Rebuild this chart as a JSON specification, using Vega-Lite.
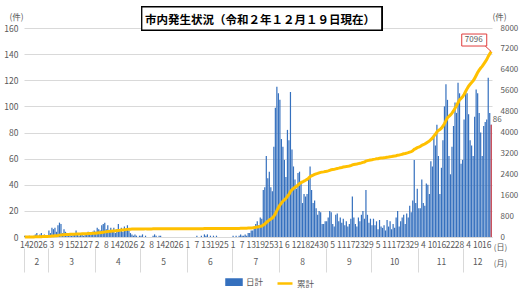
{
"$schema":"https://vega.github.io/schema/vega-lite/v6.json",
"width":468,"height":209,
"autosize":{"type":"none"},
"padding":{"left":24,"top":28,"right":28,"bottom":56},
"background":"white",
"config":{"font":"Noto Sans CJK JP","view":{"stroke":null},"axis":{"labelColor":"#595959","labelFontSize":8.5,"titleColor":"#595959","titleFontSize":8.5,"titleFontWeight":"normal"}},
"title":{"text":"市内発生状況（令和２年１２月１９日現在）","fontSize":11.5,"fontWeight":"bold","color":"#000000","anchor":"middle","frame":"group","baseline":"middle","offset":0,"dy":28,"dx":2},
"data":{"values":[
{"date":"2020-02-14","n":1},{"date":"2020-02-15","n":0},{"date":"2020-02-16","n":0},{"date":"2020-02-17","n":1},{"date":"2020-02-18","n":0},{"date":"2020-02-19","n":0},{"date":"2020-02-20","n":1},{"date":"2020-02-21","n":2},{"date":"2020-02-22","n":3},{"date":"2020-02-23","n":1},{"date":"2020-02-24","n":2},{"date":"2020-02-25","n":3},{"date":"2020-02-26","n":1},{"date":"2020-02-27","n":2},{"date":"2020-02-28","n":1},{"date":"2020-02-29","n":1},
{"date":"2020-03-01","n":5},{"date":"2020-03-02","n":3},{"date":"2020-03-03","n":7},{"date":"2020-03-04","n":6},{"date":"2020-03-05","n":7},{"date":"2020-03-06","n":4},{"date":"2020-03-07","n":9},{"date":"2020-03-08","n":11},{"date":"2020-03-09","n":10},{"date":"2020-03-10","n":3},{"date":"2020-03-11","n":6},{"date":"2020-03-12","n":4},{"date":"2020-03-13","n":2},{"date":"2020-03-14","n":3},{"date":"2020-03-15","n":2},{"date":"2020-03-16","n":1},{"date":"2020-03-17","n":3},{"date":"2020-03-18","n":2},{"date":"2020-03-19","n":5},{"date":"2020-03-20","n":2},{"date":"2020-03-21","n":1},{"date":"2020-03-22","n":3},{"date":"2020-03-23","n":2},{"date":"2020-03-24","n":1},{"date":"2020-03-25","n":3},{"date":"2020-03-26","n":2},{"date":"2020-03-27","n":4},{"date":"2020-03-28","n":3},{"date":"2020-03-29","n":2},{"date":"2020-03-30","n":4},{"date":"2020-03-31","n":5},
{"date":"2020-04-01","n":4},{"date":"2020-04-02","n":7},{"date":"2020-04-03","n":6},{"date":"2020-04-04","n":5},{"date":"2020-04-05","n":9},{"date":"2020-04-06","n":10},{"date":"2020-04-07","n":11},{"date":"2020-04-08","n":6},{"date":"2020-04-09","n":9},{"date":"2020-04-10","n":5},{"date":"2020-04-11","n":7},{"date":"2020-04-12","n":4},{"date":"2020-04-13","n":7},{"date":"2020-04-14","n":3},{"date":"2020-04-15","n":6},{"date":"2020-04-16","n":10},{"date":"2020-04-17","n":5},{"date":"2020-04-18","n":7},{"date":"2020-04-19","n":4},{"date":"2020-04-20","n":8},{"date":"2020-04-21","n":6},{"date":"2020-04-22","n":9},{"date":"2020-04-23","n":5},{"date":"2020-04-24","n":3},{"date":"2020-04-25","n":2},{"date":"2020-04-26","n":1},{"date":"2020-04-27","n":2},{"date":"2020-04-28","n":1},{"date":"2020-04-29","n":0},{"date":"2020-04-30","n":1},
{"date":"2020-05-01","n":1},{"date":"2020-05-02","n":2},{"date":"2020-05-03","n":0},{"date":"2020-05-04","n":1},{"date":"2020-05-05","n":0},{"date":"2020-05-06","n":0},{"date":"2020-05-07","n":0},{"date":"2020-05-08","n":0},{"date":"2020-05-09","n":1},{"date":"2020-05-10","n":2},{"date":"2020-05-11","n":1},{"date":"2020-05-12","n":0},{"date":"2020-05-13","n":1},{"date":"2020-05-14","n":1},{"date":"2020-05-15","n":0},{"date":"2020-05-16","n":0},{"date":"2020-05-17","n":0},{"date":"2020-05-18","n":0},{"date":"2020-05-19","n":0},{"date":"2020-05-20","n":0},{"date":"2020-05-21","n":0},{"date":"2020-05-22","n":0},{"date":"2020-05-23","n":0},{"date":"2020-05-24","n":0},{"date":"2020-05-25","n":0},{"date":"2020-05-26","n":0},{"date":"2020-05-27","n":0},{"date":"2020-05-28","n":0},{"date":"2020-05-29","n":0},{"date":"2020-05-30","n":0},{"date":"2020-05-31","n":0},
{"date":"2020-06-01","n":0},{"date":"2020-06-02","n":0},{"date":"2020-06-03","n":0},{"date":"2020-06-04","n":0},{"date":"2020-06-05","n":0},{"date":"2020-06-06","n":0},{"date":"2020-06-07","n":1},{"date":"2020-06-08","n":0},{"date":"2020-06-09","n":0},{"date":"2020-06-10","n":1},{"date":"2020-06-11","n":0},{"date":"2020-06-12","n":2},{"date":"2020-06-13","n":1},{"date":"2020-06-14","n":2},{"date":"2020-06-15","n":0},{"date":"2020-06-16","n":1},{"date":"2020-06-17","n":0},{"date":"2020-06-18","n":1},{"date":"2020-06-19","n":0},{"date":"2020-06-20","n":1},{"date":"2020-06-21","n":0},{"date":"2020-06-22","n":0},{"date":"2020-06-23","n":0},{"date":"2020-06-24","n":0},{"date":"2020-06-25","n":0},{"date":"2020-06-26","n":0},{"date":"2020-06-27","n":0},{"date":"2020-06-28","n":0},{"date":"2020-06-29","n":0},{"date":"2020-06-30","n":0},
{"date":"2020-07-01","n":1},{"date":"2020-07-02","n":0},{"date":"2020-07-03","n":1},{"date":"2020-07-04","n":0},{"date":"2020-07-05","n":1},{"date":"2020-07-06","n":2},{"date":"2020-07-07","n":1},{"date":"2020-07-08","n":1},{"date":"2020-07-09","n":2},{"date":"2020-07-10","n":1},{"date":"2020-07-11","n":3},{"date":"2020-07-12","n":3},{"date":"2020-07-13","n":5},{"date":"2020-07-14","n":5},{"date":"2020-07-15","n":8},{"date":"2020-07-16","n":10},{"date":"2020-07-17","n":12},{"date":"2020-07-18","n":9},{"date":"2020-07-19","n":15},{"date":"2020-07-20","n":14},{"date":"2020-07-21","n":36},{"date":"2020-07-22","n":38},{"date":"2020-07-23","n":62},{"date":"2020-07-24","n":45},{"date":"2020-07-25","n":50},{"date":"2020-07-26","n":38},{"date":"2020-07-27","n":35},{"date":"2020-07-28","n":69},{"date":"2020-07-29","n":99},{"date":"2020-07-30","n":115},{"date":"2020-07-31","n":110},
{"date":"2020-08-01","n":105},{"date":"2020-08-02","n":75},{"date":"2020-08-03","n":69},{"date":"2020-08-04","n":59},{"date":"2020-08-05","n":46},{"date":"2020-08-06","n":82},{"date":"2020-08-07","n":74},{"date":"2020-08-08","n":111},{"date":"2020-08-09","n":67},{"date":"2020-08-10","n":54},{"date":"2020-08-11","n":44},{"date":"2020-08-12","n":37},{"date":"2020-08-13","n":49},{"date":"2020-08-14","n":50},{"date":"2020-08-15","n":42},{"date":"2020-08-16","n":26},{"date":"2020-08-17","n":33},{"date":"2020-08-18","n":31},{"date":"2020-08-19","n":33},{"date":"2020-08-20","n":46},{"date":"2020-08-21","n":54},{"date":"2020-08-22","n":36},{"date":"2020-08-23","n":26},{"date":"2020-08-24","n":28},{"date":"2020-08-25","n":22},{"date":"2020-08-26","n":17},{"date":"2020-08-27","n":20},{"date":"2020-08-28","n":19},{"date":"2020-08-29","n":10},{"date":"2020-08-30","n":10},{"date":"2020-08-31","n":12},
{"date":"2020-09-01","n":12},{"date":"2020-09-02","n":15},{"date":"2020-09-03","n":20},{"date":"2020-09-04","n":19},{"date":"2020-09-05","n":10},{"date":"2020-09-06","n":8},{"date":"2020-09-07","n":17},{"date":"2020-09-08","n":18},{"date":"2020-09-09","n":12},{"date":"2020-09-10","n":15},{"date":"2020-09-11","n":11},{"date":"2020-09-12","n":14},{"date":"2020-09-13","n":9},{"date":"2020-09-14","n":12},{"date":"2020-09-15","n":8},{"date":"2020-09-16","n":10},{"date":"2020-09-17","n":14},{"date":"2020-09-18","n":31},{"date":"2020-09-19","n":15},{"date":"2020-09-20","n":10},{"date":"2020-09-21","n":8},{"date":"2020-09-22","n":15},{"date":"2020-09-23","n":12},{"date":"2020-09-24","n":17},{"date":"2020-09-25","n":20},{"date":"2020-09-26","n":14},{"date":"2020-09-27","n":36},{"date":"2020-09-28","n":17},{"date":"2020-09-29","n":11},{"date":"2020-09-30","n":14},
{"date":"2020-10-01","n":9},{"date":"2020-10-02","n":14},{"date":"2020-10-03","n":9},{"date":"2020-10-04","n":12},{"date":"2020-10-05","n":6},{"date":"2020-10-06","n":13},{"date":"2020-10-07","n":8},{"date":"2020-10-08","n":7},{"date":"2020-10-09","n":9},{"date":"2020-10-10","n":5},{"date":"2020-10-11","n":13},{"date":"2020-10-12","n":8},{"date":"2020-10-13","n":12},{"date":"2020-10-14","n":6},{"date":"2020-10-15","n":10},{"date":"2020-10-16","n":7},{"date":"2020-10-17","n":15},{"date":"2020-10-18","n":20},{"date":"2020-10-19","n":8},{"date":"2020-10-20","n":12},{"date":"2020-10-21","n":15},{"date":"2020-10-22","n":17},{"date":"2020-10-23","n":10},{"date":"2020-10-24","n":18},{"date":"2020-10-25","n":15},{"date":"2020-10-26","n":24},{"date":"2020-10-27","n":19},{"date":"2020-10-28","n":28},{"date":"2020-10-29","n":59},{"date":"2020-10-30","n":26},{"date":"2020-10-31","n":37},
{"date":"2020-11-01","n":22},{"date":"2020-11-02","n":22},{"date":"2020-11-03","n":44},{"date":"2020-11-04","n":26},{"date":"2020-11-05","n":24},{"date":"2020-11-06","n":41},{"date":"2020-11-07","n":40},{"date":"2020-11-08","n":33},{"date":"2020-11-09","n":58},{"date":"2020-11-10","n":54},{"date":"2020-11-11","n":77},{"date":"2020-11-12","n":70},{"date":"2020-11-13","n":86},{"date":"2020-11-14","n":62},{"date":"2020-11-15","n":33},{"date":"2020-11-16","n":53},{"date":"2020-11-17","n":74},{"date":"2020-11-18","n":100},{"date":"2020-11-19","n":117},{"date":"2020-11-20","n":105},{"date":"2020-11-21","n":62},{"date":"2020-11-22","n":48},{"date":"2020-11-23","n":69},{"date":"2020-11-24","n":85},{"date":"2020-11-25","n":103},{"date":"2020-11-26","n":95},{"date":"2020-11-27","n":118},{"date":"2020-11-28","n":110},{"date":"2020-11-29","n":56},{"date":"2020-11-30","n":59},
{"date":"2020-12-01","n":90},{"date":"2020-12-02","n":112},{"date":"2020-12-03","n":110},{"date":"2020-12-04","n":94},{"date":"2020-12-05","n":74},{"date":"2020-12-06","n":70},{"date":"2020-12-07","n":62},{"date":"2020-12-08","n":92},{"date":"2020-12-09","n":113},{"date":"2020-12-10","n":110},{"date":"2020-12-11","n":95},{"date":"2020-12-12","n":80},{"date":"2020-12-13","n":62},{"date":"2020-12-14","n":85},{"date":"2020-12-15","n":88},{"date":"2020-12-16","n":90},{"date":"2020-12-17","n":122},{"date":"2020-12-18","n":95},{"date":"2020-12-19","n":86}
]},
"transform":[{"window":[{"op":"sum","field":"n","as":"cum"}],"sort":[{"field":"date","order":"ascending"}],"frame":[null,0]}],
"layer":[
 {"layer":[
  {"mark":{"type":"bar"},
   "encoding":{
    "x":{"field":"date","type":"ordinal","scale":{"paddingInner":0.2,"paddingOuter":0.1},
     "axis":{"orient":"bottom","values":["2020-02-14","2020-02-20","2020-02-26","2020-03-03","2020-03-09","2020-03-15","2020-03-21","2020-03-27","2020-04-02","2020-04-08","2020-04-14","2020-04-20","2020-04-26","2020-05-02","2020-05-08","2020-05-14","2020-05-20","2020-05-26","2020-06-01","2020-06-07","2020-06-13","2020-06-19","2020-06-25","2020-07-01","2020-07-07","2020-07-13","2020-07-19","2020-07-25","2020-07-31","2020-08-06","2020-08-12","2020-08-18","2020-08-24","2020-08-30","2020-09-05","2020-09-11","2020-09-17","2020-09-23","2020-09-29","2020-10-05","2020-10-11","2020-10-17","2020-10-23","2020-10-29","2020-11-04","2020-11-10","2020-11-16","2020-11-22","2020-11-28","2020-12-04","2020-12-10","2020-12-16"],
      "labelExpr":"toNumber(slice(datum.value, 8, 10))","labelAngle":0,"labelOverlap":false,"ticks":false,"domain":true,"domainColor":"#D9D9D9","labelPadding":3,"grid":false,
      "title":"(日)","titleX":476,"titleY":10.5,"titleAngle":0,"titleAlign":"center","titleBaseline":"middle","titleFontSize":8}},
    "y":{"field":"n","type":"quantitative","scale":{"domain":[0,160]},
     "axis":{"orient":"left","values":[0,20,40,60,80,100,120,140,160],"grid":true,"gridColor":"#D9D9D9","ticks":false,"domain":false,"labelPadding":6,
      "title":"(件)","titleX":-8,"titleY":-12,"titleAngle":0,"titleAlign":"center","titleBaseline":"middle"}},
    "color":{"datum":"日計","type":"nominal","scale":{"domain":["日計","累計"],"range":["#3570BE","#FFC000"]},
     "legend":{"orient":"none","legendX":201,"legendY":245,"direction":"horizontal","title":null,"padding":0,"labelFontSize":8.5,"labelColor":"#595959","symbolSize":225,"columnPadding":8,"labelOffset":3,
      "encode":{"symbols":{"update":{
        "shape":{"signal":"datum.value === '累計' ? 'stroke' : 'M -1 -0.35 H 1 V 0.35 H -1 Z'"},
        "fill":{"signal":"datum.value === '累計' ? 'transparent' : '#3570BE'"},
        "stroke":{"signal":"datum.value === '累計' ? '#FFC000' : 'transparent'"},
        "strokeWidth":{"value":2.5},"opacity":{"value":1}}}}}}
   }},
  {"transform":[{"filter":"datum.date === '2020-12-19'"}],
   "mark":{"type":"bar","color":"#E24A4A"},
   "encoding":{"x":{"field":"date","type":"ordinal","axis":null},"y":{"field":"n","type":"quantitative","axis":null}}},
  {"transform":[{"filter":"datum.date === '2020-12-19'"}],
   "mark":{"type":"text","dx":6,"dy":-5,"fontSize":8,"color":"#595959","align":"center","baseline":"middle"},
   "encoding":{"x":{"field":"date","type":"ordinal","axis":null},"y":{"field":"n","type":"quantitative","axis":null},"text":{"field":"n"}}},
  {"mark":{"type":"point","shape":"M -1 -0.175 H 1 V 0.0167 H -1 Z","size":57600,"filled":true,"fill":"white","stroke":"#000000","strokeWidth":1.2,"opacity":1},
   "encoding":{"x":{"datum":"2020-07-20","type":"ordinal","axis":null},"y":{"datum":160,"type":"quantitative","axis":null}}}
 ],"resolve":{"axis":{"x":"independent","y":"independent"}}},
 {"layer":[
  {"mark":{"type":"line","strokeWidth":3},
   "encoding":{
    "x":{"field":"date","type":"ordinal",
     "axis":{"orient":"bottom","values":["2020-02-22","2020-03-16","2020-04-16","2020-05-16","2020-06-16","2020-07-16","2020-08-16","2020-09-16","2020-10-16","2020-11-16","2020-12-10"],
      "labelExpr":"toNumber(slice(datum.value, 5, 7))","labelAngle":0,"ticks":false,"domain":false,"labelPadding":20,"grid":false,
      "title":"(月)","titleX":476,"titleY":26,"titleAngle":0,"titleAlign":"center","titleBaseline":"middle","titleFontSize":8}},
    "y":{"field":"cum","type":"quantitative","scale":{"domain":[0,8000]},
     "axis":{"orient":"right","values":[0,800,1600,2400,3200,4000,4800,5600,6400,7200,8000],"format":"d","grid":false,"ticks":false,"domain":false,"labelPadding":8,"labelFontSize":8,
      "title":"(件)","titleX":7,"titleY":-12,"titleAngle":0,"titleAlign":"center","titleBaseline":"middle"}},
    "color":{"datum":"累計","type":"nominal"}
   }},
  {"transform":[{"filter":"datum.date === '2020-12-19'"}],
   "mark":{"type":"point","shape":"M -1.475 -0.88 H -0.225 V -0.28 H -1.475 Z M -0.3 -0.28 L 0 0","size":1600,"filled":true,"fill":"white","stroke":"#E03C3C","strokeWidth":1,"opacity":1},
   "encoding":{"x":{"field":"date","type":"ordinal",
     "axis":{"orient":"bottom","offset":11,"values":["2020-02-14","2020-03-01","2020-04-01","2020-05-01","2020-06-01","2020-07-01","2020-08-01","2020-09-01","2020-10-01","2020-11-01","2020-12-01"],"bandPosition":0,"labels":false,"ticks":true,"tickSize":24,"tickColor":"#D9D9D9","domain":false,"grid":false,"title":null}},
    "y":{"field":"cum","type":"quantitative","axis":null}}},
  {"transform":[{"filter":"datum.date === '2020-12-19'"}],
   "mark":{"type":"text","dx":-17.5,"dy":-11.6,"fontSize":8,"color":"#595959","align":"center","baseline":"middle"},
   "encoding":{"x":{"field":"date","type":"ordinal","axis":null},"y":{"field":"cum","type":"quantitative","axis":null},"text":{"field":"cum"}}}
 ],"resolve":{"axis":{"x":"independent","y":"independent"}}}
],
"resolve":{"scale":{"y":"independent"},"axis":{"x":"independent"}}
}
